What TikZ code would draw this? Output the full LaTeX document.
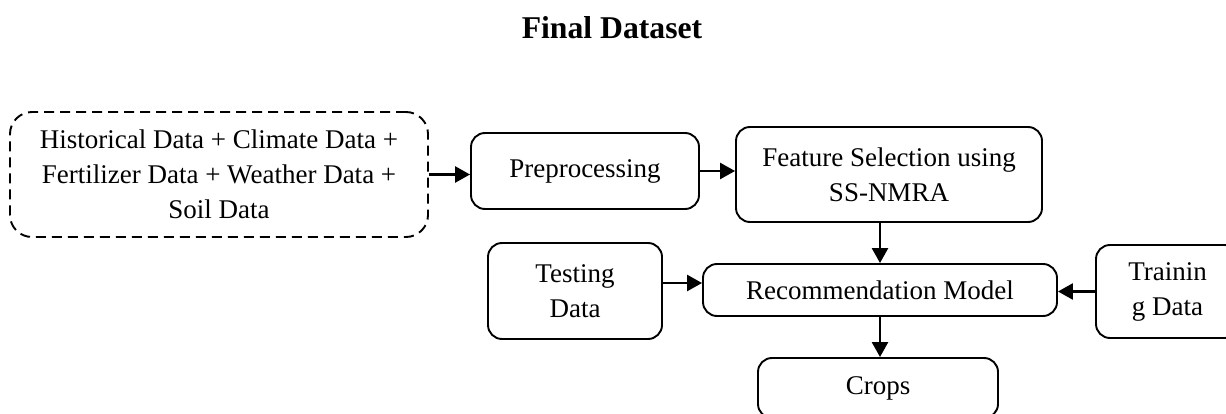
\documentclass[tikz,border=0pt]{standalone}
\usepackage{fontspec}
\setmainfont{Liberation Serif}
\usetikzlibrary{arrows.meta}
\tikzset{
  blk/.style={draw, line width=1.9pt, rounded corners=14pt, align=center, inner sep=0pt,
    font=\fontsize{27}{35}\selectfont},
  dblk/.style={blk, dash pattern=on 10pt off 6pt, rounded corners=22pt},
  arr/.style={line width=2.6pt, -{Triangle[length=15pt,width=16pt]}}
}
\begin{document}
\begin{tikzpicture}[x=1pt,y=-1pt]
\useasboundingbox (0,0) rectangle (1226,414);
% Title
\node[font=\fontsize{31.7}{36}\selectfont\bfseries] (title) at (612,28) {Final Dataset};

% Input data and processing chain
\node[dblk, minimum width=418pt, minimum height=125pt] (data) at (219,174.5)
  {Historical Data + Climate Data +\\ Fertilizer Data + Weather Data +\\ Soil Data};
\node[blk, minimum width=228pt, minimum height=76pt] (pre) at (585,171) {Preprocessing};
\node[blk, minimum width=306pt, minimum height=95pt] (feat) at (889,174.5)
  {Feature Selection using\\ SS-NMRA};

% Model with testing and training data
\node[blk, minimum width=354pt, minimum height=52pt] (rec) at (880,290) {Recommendation Model};
\node[blk, minimum width=174pt, minimum height=96pt] (test) at (575,291) {Testing\\ Data};
\node[blk, minimum width=143pt, minimum height=93pt] (train) at (1167.5,291.5) {Trainin\\ g Data};
\node[blk, minimum width=240pt, minimum height=60pt] (crops) at (878,388) {Crops};

% Arrows
\draw[arr] (data.east) -- (data.east -| pre.west);
\draw[arr] (pre.east) -- (pre.east -| feat.west);
\draw[arr] (feat.south -| rec.north) -- (rec.north);
\draw[arr] ([yshift=8pt]test.east) -- ([yshift=8pt]test.east -| rec.west);
\draw[arr] (train.west) -- (train.west -| rec.east);
\draw[arr] (rec.south) -- (rec.south |- crops.north);
\end{tikzpicture}
\end{document}
